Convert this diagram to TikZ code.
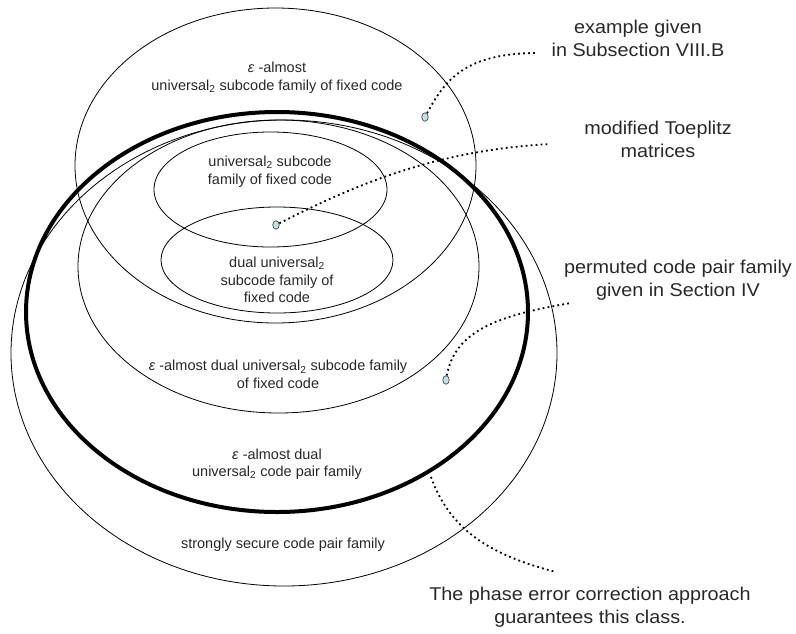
\documentclass[tikz,border=0pt]{standalone}
\usepackage{fontspec}
\setmainfont{Liberation Sans}
\newfontfamily\notefont[FakeStretch=1.07]{Liberation Sans}
\usetikzlibrary{shapes.geometric}
\definecolor{VnInk}{RGB}{40,40,40}
\definecolor{VnDot}{RGB}{190,225,232}
\definecolor{VnDotEdge}{RGB}{70,80,85}
\tikzset{
  vn/region/.style={draw=black, line width=0.8pt},
  vn/thickregion/.style={draw=black, line width=4pt},
  vn/label/.style={
    align=center,
    text=VnInk,
    inner sep=0pt,
    font=\fontsize{14.5}{17.5}\selectfont
  },
  vn/note/.style={
    align=center,
    text=VnInk,
    inner sep=0pt,
    font=\notefont\fontsize{18.5}{23}\selectfont
  },
  vn/dot/.style={
    ellipse,
    draw=VnDotEdge,
    line width=0.7pt,
    fill=VnDot,
    inner sep=0pt,
    minimum width=6.5pt,
    minimum height=8.5pt
  },
  vn/dotline/.style={draw=black, line width=1.8pt, dash pattern=on 1.8pt off 3.2pt}
}
\newcommand{\veps}{\textit{ε}}
\newcommand{\univ}{universal\textsubscript{2}}

\begin{document}
\begin{tikzpicture}[x=1pt,y=-1pt]
  \useasboundingbox (0,0) rectangle (796,633);

  % class regions
  \draw[vn/region] (284,353) ellipse [x radius=273pt, y radius=233pt];
  \draw[vn/thickregion] (277,312) ellipse [x radius=251pt, y radius=200pt];
  \draw[vn/region] (278.5,266.5) ellipse [x radius=200.5pt, y radius=146.5pt];
  \draw[vn/region] (275.5,165.5) ellipse [x radius=200.5pt, y radius=157.5pt];
  \draw[vn/region] (270.5,189.5) ellipse [x radius=116.5pt, y radius=57.5pt];
  \draw[vn/region] (277,260) ellipse [x radius=116pt, y radius=53pt];

  % region labels
  \node[vn/label] (almostUniv) at (277,77.5) {\veps\ -almost\\\univ\ subcode family of fixed code};
  \node[vn/label] (univSub) at (270,171.5) {\univ\ subcode\\family of fixed code};
  \node[vn/label] (dualUniv) at (277,280) {dual \univ\\subcode family of\\fixed code};
  \node[vn/label] (almostDual) at (278,374.5) {\veps\ -almost dual \univ\ subcode family\\of fixed code};
  \node[vn/label] (almostPair) at (277,464) {\veps\ -almost dual\\\univ\ code pair family};
  \node[vn/label] (strongPair) at (283,545) {strongly secure code pair family};

  % notes outside
  \node[vn/note] (exNote) at (638,38) {example given\\in Subsection VIII.B};
  \node[vn/note] (toepNote) at (658,139) {modified Toeplitz\\matrices};
  \node[vn/note] (permNote) at (678,280) {permuted code pair family\\given in Section IV};
  \node[vn/note] (phaseNote) at (590,607) {The phase error correction approach\\guarantees this class.};

  % example points
  \node[vn/dot] (exDot) at (425,117) {};
  \node[vn/dot] (toepDot) at (276,225) {};
  \node[vn/dot] (permDot) at (446,380) {};

  \coordinate (exEnd) at (538,53);
  \coordinate (toepEnd) at (550,144);
  \coordinate (permEnd) at (571,303);
  \coordinate (phaseStart) at (431,477);
  \coordinate (phaseEnd) at (556,572);

  % pointers
  \draw[vn/dotline] (exDot) .. controls (445,80) and (465,53) .. (exEnd);
  \draw[vn/dotline] (toepDot) .. controls (360,182) and (440,150) .. (toepEnd);
  \draw[vn/dotline] (permDot) .. controls (455,330) and (500,315) .. (permEnd);
  \draw[vn/dotline] (phaseStart) .. controls (450,530) and (490,555) .. (phaseEnd);
\end{tikzpicture}
\end{document}
